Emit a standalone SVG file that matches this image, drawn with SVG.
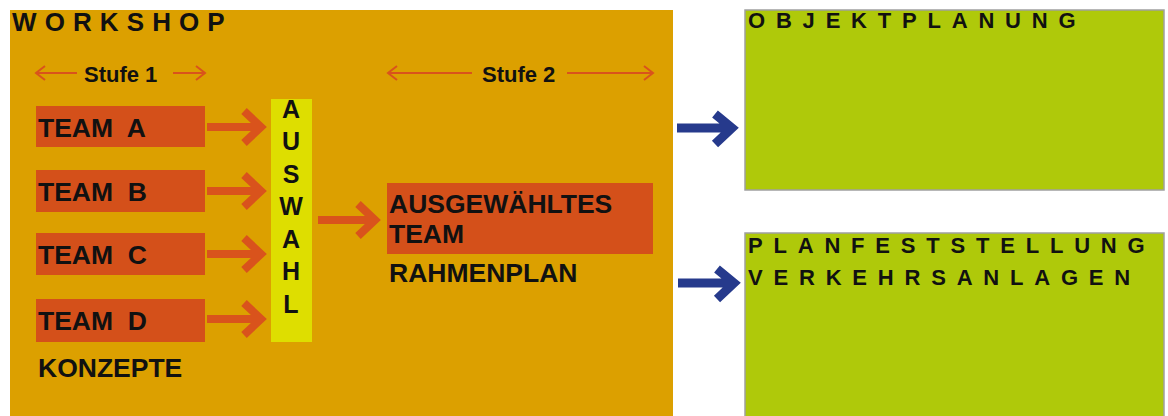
<svg xmlns="http://www.w3.org/2000/svg" width="1168" height="416" viewBox="0 0 1168 416">
<style>
  .t { font-family: "Liberation Sans", Arial, sans-serif; font-weight: bold; fill: #111; }
  .big { font-size: 26.5px; }
  .sp { font-size: 22px; letter-spacing: 10.8px; }
  .stufe { font-size: 22px; }
  .red { fill: #d4501a; }
  .green { fill: #afc90a; stroke: #a0a0a0; stroke-width: 1.5; }
  .thick { fill: none; stroke: #d9531c; stroke-width: 8; stroke-linejoin: miter; }
  .blue { fill: none; stroke: #263a8c; stroke-width: 9; stroke-linejoin: miter; }
  .thin { fill: none; stroke: #d9531c; stroke-width: 2; }
</style>
<rect width="1168" height="416" fill="#ffffff"/>
<g id="workshop">
  <rect x="10" y="10" width="663" height="410" fill="#dca000"/>
  <text class="t" x="12" y="31" style="font-size:26px;letter-spacing:8.1px">WORKSHOP</text>
  <text class="t stufe" x="84" y="82">Stufe 1</text>
  <text class="t stufe" x="482" y="82">Stufe 2</text>
</g>
<g id="teamA">
  <rect class="red" x="36" y="106" width="169" height="41"/>
  <text class="t big" x="38" y="137" xml:space="preserve">TEAM  A</text>
</g>
<g id="teamB">
  <rect class="red" x="36" y="170" width="169" height="42"/>
  <text class="t big" x="38" y="201" xml:space="preserve">TEAM  B</text>
</g>
<g id="teamC">
  <rect class="red" x="36" y="233" width="169" height="42"/>
  <text class="t big" x="38" y="264" xml:space="preserve">TEAM  C</text>
</g>
<g id="teamD">
  <rect class="red" x="36" y="299" width="169" height="43"/>
  <text class="t big" x="38" y="330" xml:space="preserve">TEAM  D</text>
</g>
<g id="konzepte">
  <text class="t big" x="38" y="377">KONZEPTE</text>
</g>
<g id="auswahl">
  <rect x="271" y="99" width="41" height="243" fill="#dede00"/>
  <g class="t" style="font-size:25px" text-anchor="middle">
    <text x="291" y="118">A</text>
    <text x="291" y="150">U</text>
    <text x="291" y="183">S</text>
    <text x="291" y="215">W</text>
    <text x="291" y="248">A</text>
    <text x="291" y="280">H</text>
    <text x="291" y="313">L</text>
  </g>
</g>
<g id="ausgewaehlt">
  <rect class="red" x="387" y="183" width="266" height="71"/>
  <text class="t big" x="389" y="213">AUSGEWÄHLTES</text>
  <text class="t big" x="389" y="243">TEAM</text>
  <text class="t big" x="389" y="282">RAHMENPLAN</text>
</g>
<g id="objektplanung">
  <rect class="green" x="745" y="10" width="419" height="180"/>
  <text class="t sp" x="748" y="28">OBJEKTPLANUNG</text>
</g>
<g id="planfeststellung">
  <rect class="green" x="745" y="233" width="419" height="190"/>
  <text class="t sp" x="748" y="253">PLANFESTSTELLUNG</text>
  <text class="t sp" x="748" y="285">VERKEHRSANLAGEN</text>
</g>
<g id="connectors">
  <path class="thin" d="M36 73 H77 M45 66 L36 73 L45 80 M173 73 H205 M196 66 L205 73 L196 80"/>
  <path class="thin" d="M388 73 H472 M397 66 L388 73 L397 80 M567 73 H653 M644 66 L653 73 L644 80"/>
  <path class="thick" d="M207 127 H259 M244 111 L261 127 L244 143"/>
  <path class="thick" d="M207 191 H259 M244 175 L261 191 L244 207"/>
  <path class="thick" d="M207 254 H259 M244 238 L261 254 L244 270"/>
  <path class="thick" d="M207 319 H259 M244 303 L261 319 L244 335"/>
  <path class="thick" d="M318 220 H372 M358 204 L375 220 L358 236"/>
  <path class="blue" d="M677 128 H729 M715 114 L732 128 L715 144"/>
  <path class="blue" d="M678 283 H731 M717 269 L734 283 L717 299"/>
</g>
</svg>
